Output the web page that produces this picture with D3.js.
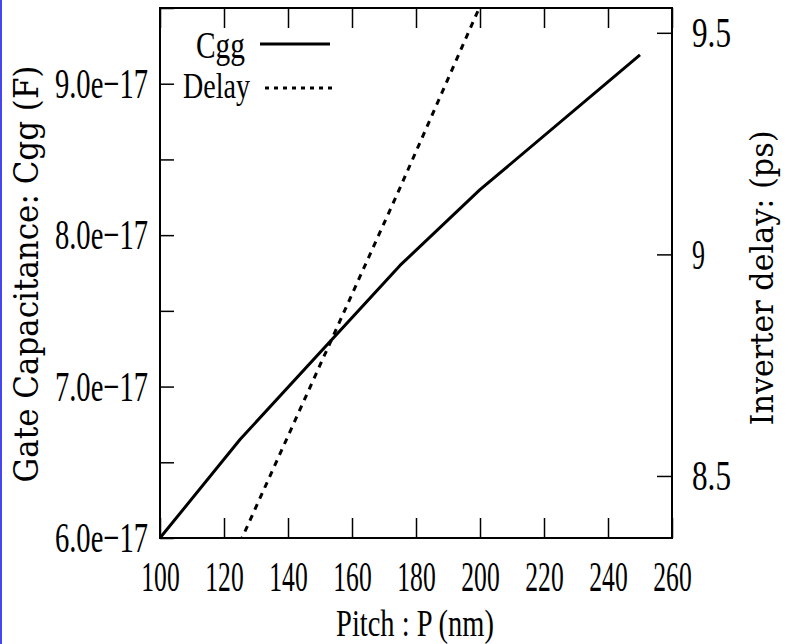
<!DOCTYPE html>
<html lang="en">
<head>
<meta charset="utf-8">
<title>Gate capacitance and inverter delay vs pitch</title>
<script src="https://d3js.org/d3.v7.min.js"></script>
<style>body{margin:0;background:#fff}</style>
</head>
<body>
<script>
var w = 786, h = 644;
var margin = {top: 8, right: 114, bottom: 106, left: 160};
var innerWidth = w - margin.left - margin.right;
var innerHeight = h - margin.top - margin.bottom;

// data
var pitch = [100, 125, 175, 200, 250];
var cgg = [6.0e-17, 6.65e-17, 7.80e-17, 8.30e-17, 9.19e-17];
var delayPitch = [125, 150, 175, 200];
var delay = [8.35, 8.75, 9.15, 9.56];

var xTicks = [100, 120, 140, 160, 180, 200, 220, 240, 260];
var leftTicks = [6.0e-17, 6.5e-17, 7.0e-17, 7.5e-17, 8.0e-17, 8.5e-17, 9.0e-17, 9.5e-17];
var leftLabels = ["6.0e\u221217", "", "7.0e\u221217", "", "8.0e\u221217", "", "9.0e\u221217", ""];
var rightTicks = [8.5, 9, 9.5];
var rightLabels = ["8.5", "9", "9.5"];

var xScale = d3.scaleLinear().domain([100, 260]).range([0, innerWidth]);
var yLeft = d3.scaleLinear().domain([6.0e-17, 9.5e-17]).range([innerHeight, 0]);
var yRight = d3.scaleLinear().domain([8.36, 9.556]).range([innerHeight, 0]);

var serif = "'Liberation Serif', 'Times New Roman', serif";
var wide = "'DejaVu Serif', serif";

var svg = d3.select("body").append("svg")
  .attr("width", w).attr("height", h)
  .style("display", "block");

svg.append("rect").attr("width", w).attr("height", h).attr("fill", "#fff");
// blue strip on the left edge
svg.append("rect").attr("x", 0).attr("y", 0).attr("width", 2).attr("height", h).attr("fill", "#4646ee");

var g = svg.append("g").attr("transform", "translate(" + margin.left + "," + margin.top + ")");

g.append("clipPath").attr("id", "plotclip")
  .append("rect").attr("width", innerWidth).attr("height", innerHeight);

// narrow each tick label to a width per character, like the stretched original
function styleAxis(ax, perChar) {
  ax.select(".domain").remove();
  ax.selectAll("line").attr("stroke", "#000").attr("stroke-width", 1.5);
  ax.selectAll("text").filter(function () { return !this.textContent; }).remove();
  ax.selectAll("text")
    .attr("font-family", serif)
    .attr("font-size", 43)
    .attr("fill", "#000")
    .each(function () {
      var t = d3.select(this);
      var len = this.getComputedTextLength();
      var k = perChar * t.text().length / len;
      var x = +t.attr("x") || 0;
      t.attr("x", x / k).attr("transform", "scale(" + k + ",1)");
    });
}

var xAxis = g.append("g").attr("transform", "translate(0," + innerHeight + ")")
  .call(d3.axisBottom(xScale).tickValues(xTicks).tickFormat(d3.format("d"))
    .tickSizeInner(-20).tickSizeOuter(0).tickPadding(22));
styleAxis(xAxis, 12.8);

var topAxis = g.append("g")
  .call(d3.axisTop(xScale).tickValues(xTicks).tickFormat("")
    .tickSizeInner(-20).tickSizeOuter(0));
styleAxis(topAxis, 1);

var leftAxis = g.append("g")
  .call(d3.axisLeft(yLeft).tickValues(leftTicks)
    .tickFormat(function (d, i) { return leftLabels[i]; })
    .tickSizeInner(-14).tickSizeOuter(0).tickPadding(12));
styleAxis(leftAxis, 13.3);

var rightAxis = g.append("g").attr("transform", "translate(" + innerWidth + ",0)")
  .call(d3.axisRight(yRight).tickValues(rightTicks)
    .tickFormat(function (d, i) { return rightLabels[i]; })
    .tickSizeInner(-15).tickSizeOuter(0).tickPadding(20));
styleAxis(rightAxis, 13);

// frame
g.append("rect").attr("width", innerWidth).attr("height", innerHeight)
  .attr("fill", "none").attr("stroke", "#000").attr("stroke-width", 2);

var plot = g.append("g").attr("clip-path", "url(#plotclip)");

var cggLine = d3.line()
  .x(function (d, i) { return xScale(pitch[i]); })
  .y(function (d) { return yLeft(d); });

var delayLine = d3.line()
  .x(function (d, i) { return xScale(delayPitch[i]); })
  .y(function (d) { return yRight(d); });

plot.append("path").datum(cgg).attr("d", cggLine)
  .attr("fill", "none").attr("stroke", "#000").attr("stroke-width", 3)
  .attr("stroke-linejoin", "round");

plot.append("path").datum(delay).attr("d", delayLine)
  .attr("fill", "none").attr("stroke", "#000").attr("stroke-width", 3)
  .attr("stroke-dasharray", "6,6");

// text placed at (x, y), then squeezed along its length to a target width
function label(parent, x, y, str, size, family, anchor, width, rot) {
  var t = parent.append("text").attr("text-anchor", anchor)
    .attr("font-family", family).attr("font-size", size).attr("fill", "#000").text(str);
  var k = width / t.node().getComputedTextLength();
  t.attr("transform", "translate(" + x + "," + y + ")" + (rot ? " rotate(" + rot + ")" : "") +
    " scale(" + k + ",1)");
  return t;
}

// legend
var legend = g.append("g");
label(legend, 245 - margin.left, 58 - margin.top, "Cgg", 38, serif, "end", 49);
label(legend, 250 - margin.left, 98 - margin.top, "Delay", 36, serif, "end", 67);
legend.append("line").attr("x1", 260 - margin.left).attr("x2", 330 - margin.left)
  .attr("y1", 44 - margin.top).attr("y2", 44 - margin.top)
  .attr("stroke", "#000").attr("stroke-width", 3);
legend.append("line").attr("x1", 265 - margin.left).attr("x2", 337 - margin.left)
  .attr("y1", 88 - margin.top).attr("y2", 88 - margin.top)
  .attr("stroke", "#000").attr("stroke-width", 3).attr("stroke-dasharray", "4,5");

// axis titles
label(svg, 415, 636, "Pitch : P (nm)", 37, serif, "middle", 158);
label(svg, 38, 274, "Gate Capacitance: Cgg (F)", 33, wide, "middle", 417, -90);
label(svg, 773, 278, "Inverter delay: (ps)", 32, wide, "middle", 295, -90);
</script>
</body>
</html>
